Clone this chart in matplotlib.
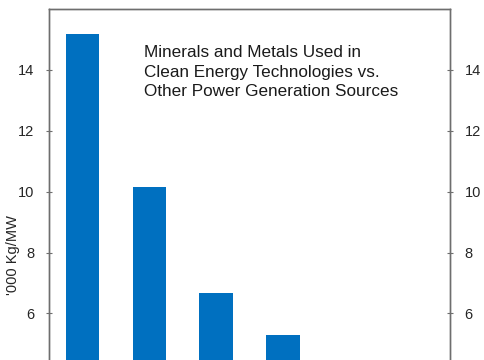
import matplotlib
matplotlib.use('Agg')
import matplotlib.pyplot as plt

plt.rcParams['font.family'] = ['Liberation Sans', 'DejaVu Sans']

# kg per MW ('000), only the top of the chart is visible
categories = ['Offshore wind', 'Onshore wind', 'Solar PV', 'Nuclear', 'Coal', 'Natural gas']
values = [15.17, 10.14, 6.66, 5.28, 2.5, 1.2]
yticks = [6, 8, 10, 12, 14]

fig = plt.figure(figsize=(4.85, 3.6), dpi=100)
# axes run off the bottom of the picture, like the cropped reference
ax = fig.add_axes([0.101, -0.378, 0.827, 1.353])
ax.bar(categories, values, width=0.5, color='#0070C0')
ax.set_xlim(-0.5, len(categories) - 0.5)
ax.set_ylim(0, 16)
ax.set_yticks(yticks)
ax.tick_params(axis='x', length=0, labelbottom=False)

ax2 = ax.twinx()
ax2.set_ylim(0, 16)
ax2.set_yticks(yticks)

for a in (ax, ax2):
    for s in a.spines.values():
        s.set_color('#6e6e6e')
        s.set_linewidth(1.0)
    a.tick_params(axis='y', direction='inout', length=5, width=0.8, color='#6e6e6e',
                  labelsize=10.5, labelcolor='#262626', pad=8)

ax.set_ylabel("'000 Kg/MW", fontsize=10.5, color='#262626')
ax.yaxis.set_label_coords(-0.072, 0.495)

ax.text(0.237, 0.926, 'Minerals and Metals Used in\nClean Energy Technologies vs.\nOther Power Generation Sources',
        transform=ax.transAxes, fontsize=12.3, color='#1a1a1a', va='top', ha='left',
        linespacing=1.38)

fig.savefig('out.png', dpi=100)
